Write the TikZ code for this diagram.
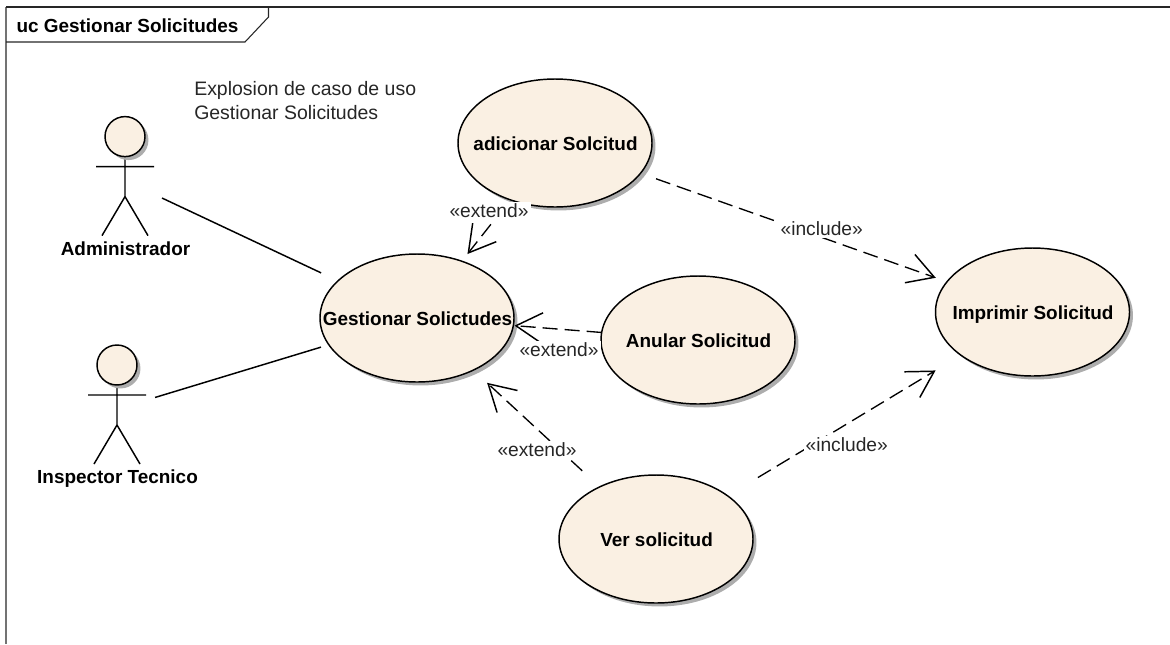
\documentclass[tikz,border=0pt]{standalone}
\usepackage{fontspec}
\setmainfont{Liberation Sans}
\usepackage{xcolor}
\usetikzlibrary{arrows.meta, shapes.geometric, shadows}
\definecolor{ucfill}{HTML}{FAF0E3}
\newcommand{\uctext}[1]{\hspace{0.8pt}\raisebox{-5.8pt}[0pt][0pt]{\makebox[0pt]{#1}}}

\begin{document}
\begin{tikzpicture}[
    x=0.75pt, y=-0.75pt,
    ushadow/.style={drop shadow={shadow xshift=2.6pt, shadow yshift=-2.6pt, fill=black!32, opacity=1}},
    ucase/.style={ellipse, draw=black, line width=1.1pt, fill=ucfill, ushadow, minimum width=145.5pt, minimum height=96pt, inner sep=0pt, font=\fontsize{14.2}{17}\selectfont\bfseries},
    actorbox/.style={rectangle, inner sep=0pt, minimum width=1pt, minimum height=1pt},
    actorname/.style={font=\fontsize{14.2}{17}\selectfont\bfseries, inner sep=0pt},
    deplabel/.style={fill=white, inner sep=1.5pt, text=black!85, font=\fontsize{14.4}{17}\selectfont},
    assoc/.style={line width=1.1pt},
    dep/.style={line width=1pt, dash pattern=on 11.25pt off 5.25pt, -{Straight Barb[length=19.5pt, width=22.5pt, line width=1.1pt]}},
    gap/.style 2 args={shorten <=#1*0.75pt, shorten >=#2*0.75pt},
    actor/.pic={
        \draw[line width=1.1pt] (0,-24) -- (0,16) (-29,-14) -- (29,-14) (-23,55) -- (0,16) -- (23,55);
        \draw[line width=1.1pt, fill=ucfill, ushadow] (0,-44) circle (15pt);
    }
]
\useasboundingbox (0,0) rectangle (1170,644);

% Frame and its tab
\draw[line width=1.3pt, black!55] (6,644) -- (6,7);
\draw[line width=1.1pt, black!85] (6,7) -- (1170,7);
\draw[line width=0.8pt, black!85] (6,42) -- (245,42) -- (268.5,17) -- (268.5,7);
\node[font=\fontsize{14.2}{17}\selectfont\bfseries, inner sep=0pt] (frametitle) at (127.5,26) {uc Gestionar Solicitudes};

% Note
\node[align=left, anchor=north west, inner sep=0pt, font=\fontsize{14.6}{18}\selectfont, text=black!85] (note) at (194,81) {Explosion de caso de uso\\Gestionar Solicitudes};

% Actors
\node[actorbox] (admin) at (125,180.6) {};
\node[actorbox] (inspector) at (117,409) {};
\pic at (admin) {actor};
\pic at (inspector) {actor};
\node[actorname] (adminname) at (125.5,249) {Administrador};
\node[actorname] (inspectorname) at (117.5,478.5) {Inspector Tecnico};

% Use cases
\node[ucase] (adicionar) at (555,143) {\uctext{adicionar Solcitud}};
\node[ucase] (gestionar) at (417,318) {\uctext{Gestionar Solictudes}};
\node[ucase] (anular) at (698,340) {\uctext{Anular Solicitud}};
\node[ucase] (ver) at (656,539) {\uctext{Ver solicitud}};
\node[ucase] (imprimir) at (1032.5,312) {\uctext{Imprimir Solicitud}};

% Associations
\draw[assoc, gap={40.9}{106}] (admin.center) -- (gestionar.center);
\draw[assoc, gap={39.8}{100.3}] (inspector.center) -- (gestionar.center);

% Extend
\draw[dep, gap={81.5}{81.5}] (adicionar.center) -- (gestionar.center);
\draw[dep, gap={96.8}{97.8}] (anular.center) -- (gestionar.center);
\draw[dep, gap={100.5}{95.5}] (ver.center) -- (gestionar.center);

% Include
\draw[dep, gap={107.2}{102.6}] (adicionar.center) -- (imprimir.center);
\draw[dep, gap={119}{113.2}] (ver.center) -- (imprimir.center);

% Labels sit on top
\node[deplabel] (extendadd) at (489,211) {«extend»};
\node[deplabel] (extendanular) at (559,350) {«extend»};
\node[deplabel] (extendver) at (537,450) {«extend»};
\node[deplabel] (includeadd) at (821.7,229) {«include»};
\node[deplabel] (includever) at (846.7,445) {«include»};

\end{tikzpicture}
\end{document}
